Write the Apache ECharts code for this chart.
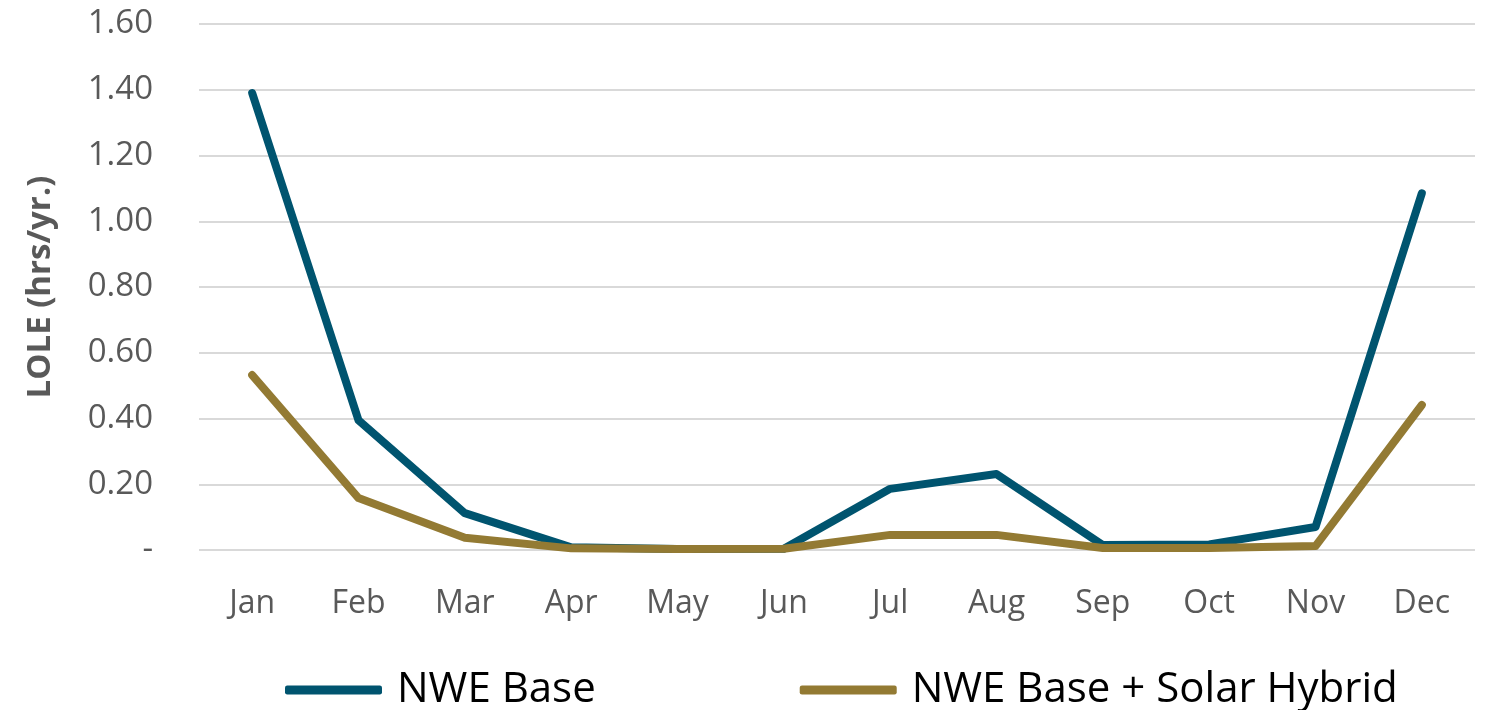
<!DOCTYPE html>
<html>
<head>
<meta charset="utf-8">
<title>LOLE by month</title>
<script src="https://cdn.jsdelivr.net/npm/echarts@6/dist/echarts.min.js"></script>
<style>
  html, body { margin: 0; padding: 0; background: #ffffff; }
  #chart { width: 1486px; height: 710px; }
</style>
</head>
<body>
<div id="chart"></div>
<script>
// Monthly loss-of-load expectation (hrs/yr.)
const months = ['Jan', 'Feb', 'Mar', 'Apr', 'May', 'Jun', 'Jul', 'Aug', 'Sep', 'Oct', 'Nov', 'Dec'];
const nweBase = [1.39, 0.395, 0.112, 0.008, 0.003, 0.004, 0.186, 0.231, 0.015, 0.017, 0.07, 1.085];
const nweSolarHybrid = [0.532, 0.158, 0.037, 0.005, 0.003, 0.004, 0.046, 0.046, 0.006, 0.006, 0.012, 0.441];
const yTicks = [0, 0.2, 0.4, 0.6, 0.8, 1.0, 1.2, 1.4, 1.6];

const FONT = '"Open Sans", "Noto Sans", sans-serif';
const chart = echarts.init(document.getElementById('chart'), null, { renderer: 'canvas' });

chart.setOption({
  backgroundColor: '#ffffff',
  animation: false,
  grid: { left: 199, right: 11, top: 24, bottom: 160 },
  legend: {
    left: 280,
    top: 664,
    itemWidth: 97,
    itemHeight: 9,
    itemGap: 204,
    icon: 'roundRect',
    textStyle: { fontFamily: FONT, fontSize: 42, color: '#000000', padding: [0, 0, 0, 10] },
    data: ['NWE Base', 'NWE Base + Solar Hybrid']
  },
  xAxis: {
    type: 'category',
    data: months,
    boundaryGap: true,
    axisLine: { show: false },
    axisTick: { show: false },
    axisLabel: { fontFamily: FONT, fontSize: 32, color: '#595959', margin: 38 }
  },
  yAxis: {
    type: 'value',
    min: yTicks[0],
    max: yTicks[yTicks.length - 1],
    interval: 0.2,
    name: 'LOLE (hrs/yr.)',
    nameLocation: 'middle',
    nameGap: 142,
    nameTextStyle: { fontFamily: FONT, fontSize: 33, fontWeight: 'bold', color: '#595959' },
    axisLine: { show: false },
    axisTick: { show: false },
    axisLabel: {
      fontFamily: FONT, fontSize: 33, color: '#595959', margin: 46,
      formatter: v => (Math.abs(v) < 1e-9 ? '-' : v.toFixed(2))
    },
    splitLine: { lineStyle: { color: '#d9d9d9', width: 2 } }
  },
  series: [
    {
      name: 'NWE Base',
      type: 'line',
      data: nweBase,
      symbol: 'none',
      itemStyle: { color: '#00546f' },
      lineStyle: { color: '#00546f', width: 8, cap: 'round', join: 'round' },
      z: 2
    },
    {
      name: 'NWE Base + Solar Hybrid',
      type: 'line',
      data: nweSolarHybrid,
      symbol: 'none',
      itemStyle: { color: '#937a33' },
      lineStyle: { color: '#937a33', width: 8, cap: 'round', join: 'round' },
      z: 3
    }
  ]
});
</script>
</body>
</html>
